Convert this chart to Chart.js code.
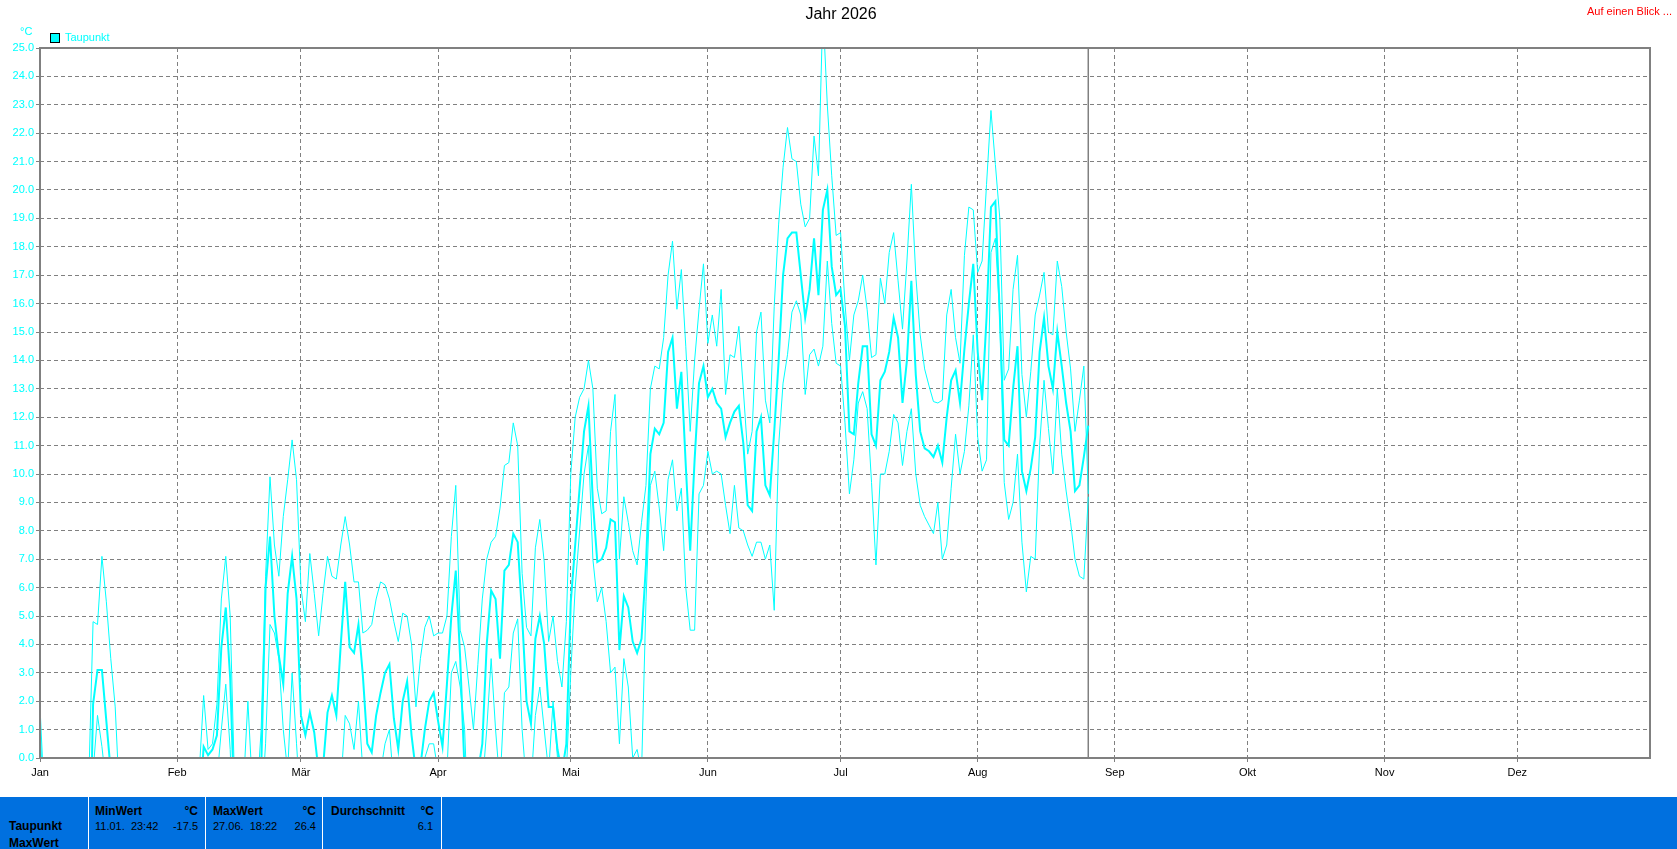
<!DOCTYPE html>
<html>
<head>
<meta charset="utf-8">
<script src="https://cdn.jsdelivr.net/npm/chart.js@4.4.1/dist/chart.umd.min.js"></script>
<style>
html,body{margin:0;padding:0;background:#fff;width:1677px;height:849px;overflow:hidden;}
#wrap{position:absolute;left:0;top:0;width:1677px;height:797px;}
#panel{position:absolute;left:0;top:797px;width:1677px;height:52px;background:#0070DF;font-family:"Liberation Sans",Arial,sans-serif;color:#000;}
.sep{position:absolute;top:0;width:1px;height:52px;background:#fff;}
.t{position:absolute;white-space:pre;line-height:12px;}
.b{font-weight:bold;font-size:12px;}
.r{font-size:11px;}
</style>
</head>
<body>
<div id="wrap"><canvas id="c" width="1677" height="797"></canvas></div>
<div id="panel">
  <div class="sep" style="left:88px"></div>
  <div class="sep" style="left:205px"></div>
  <div class="sep" style="left:322px"></div>
  <div class="sep" style="left:441px"></div>
  <div class="t b" style="left:9px;top:23px">Taupunkt</div>
  <div class="t b" style="left:9px;top:40px">MaxWert</div>
  <div class="t b" style="left:95px;top:8px">MinWert</div>
  <div class="t b" style="right:1479px;top:8px">°C</div>
  <div class="t r" style="left:95px;top:23px">11.01.  23:42</div>
  <div class="t r" style="right:1479px;top:23px">-17.5</div>
  <div class="t b" style="left:213px;top:8px">MaxWert</div>
  <div class="t b" style="right:1361px;top:8px">°C</div>
  <div class="t r" style="left:213px;top:23px">27.06.  18:22</div>
  <div class="t r" style="right:1361px;top:23px">26.4</div>
  <div class="t b" style="left:331px;top:8px">Durchschnitt</div>
  <div class="t b" style="right:1243px;top:8px">°C</div>
  <div class="t r" style="right:1244px;top:23px">6.1</div>
</div>
<script>
// ---- data (index = day of year, 0 = 1 Jan 2026) ----
const titleText = "Jahr 2026";
const seriesName = "Taupunkt";
const unitLabel = "°C";
const linkText = "Auf einen Blick ...";
const monthNames = ["Jan","Feb","Mär","Apr","Mai","Jun","Jul","Aug","Sep","Okt","Nov","Dez"];
const monthStarts = [0,31,59,90,120,151,181,212,243,273,304,334];
const yTicks = [0,1,2,3,4,5,6,7,8,9,10,11,12,13,14,15,16,17,18,19,20,21,22,23,24,25];
const todayIndex = 237;

const maxVals = [
  /*0*/ 1.8,-1.5,-3,-4,-2.5,-3,-5,-6,-4,-7,-8,
  /*11*/ -1,4.8,4.7,7.1,5.5,3.5,1.8,-1.5,
  /*19*/ -3,-4,-5,-3,-2,-4,-6,-5,-3,-2,-4,-5,-3,-2,-3,-1.5,-1,
  /*36*/ -0.5,2.2,0.3,0.5,1.9,5.6,7.1,5.0,-1,
  /*45*/ -2,-1,2.0,-1,-1.5,1.0,
  /*51*/ 6.4,9.9,7.5,6.4,8.5,9.8,11.2,9.8,6.0,4.8,
  /*61*/ 7.2,5.8,4.3,5.8,7.1,6.4,6.3,7.5,8.5,7.5,
  /*71*/ 6.2,6.2,4.4,4.5,4.7,5.6,6.2,6.1,5.6,4.8,
  /*81*/ 4.1,5.1,5.0,4.0,1.8,3.5,4.6,5.0,
  /*89*/ 4.3,4.4,4.4,5.0,7.8,9.6,4.5,3.9,2.5,1.0,3.3,5.6,
  /*101*/ 7.0,7.6,7.8,8.8,10.3,10.4,11.8,11.0,6.5,4.6,
  /*111*/ 4.3,7.4,8.4,6.9,4.1,5.0,3.4,2.5,4.8,10.0,
  /*121*/ 12.0,12.7,13.0,14.0,13.0,9.5,8.6,8.7,11.5,12.8,
  /*131*/ 7.0,9.2,8.3,7.3,6.8,8.3,9.6,13.0,13.8,13.7,
  /*141*/ 14.8,17.0,18.2,15.8,17.2,14.5,11.5,14.0,15.8,17.4,
  /*151*/ 14.6,15.6,14.5,16.5,12.8,14.2,14.1,15.2,13.0,10.7,
  /*161*/ 11.5,15.0,15.7,12.6,11.8,15.9,18.8,20.8,22.2,21.1,
  /*171*/ 21.0,19.5,18.7,19.0,21.9,20.5,26.4,23.0,20.5,18.4,
  /*181*/ 18.5,16.0,14.0,15.6,16.1,17.0,15.8,14.1,14.2,16.9,
  /*191*/ 16.0,17.8,18.5,16.8,15.1,17.5,20.2,17.0,14.9,13.7,
  /*201*/ 13.1,12.55,12.5,12.6,15.6,16.5,14.8,13.9,17.7,19.4,
  /*211*/ 19.3,17.1,17.5,20.2,22.8,20.9,19.0,13.3,13.7,16.5,
  /*221*/ 17.7,13.5,12.0,13.6,15.6,16.3,17.1,15.0,14.9,17.5,
  /*231*/ 16.6,15.0,13.7,11.5,12.6,13.8,9.3
];

const meanVals = [
  /*0*/ 0.8,-3,-5,-6,-5,-6,-8,-9,-8,-10,-12,
  /*11*/ -6,1.9,3.1,3.1,1.3,-0.5,-2,-4,
  /*19*/ -6,-7,-8,-6,-5,-7,-9,-8,-6,-5,-7,-8,-6,-5,-5,-4,-3,
  /*36*/ -2,0.4,0.1,0.3,0.8,3.9,5.3,2.8,-2,
  /*45*/ -3,-2.5,-0.5,-3,-3,-0.5,
  /*51*/ 6.0,7.8,5.0,3.6,2.6,5.8,7.1,5.6,1.5,0.8,
  /*61*/ 1.6,0.9,-0.5,-0.3,1.6,2.2,1.5,4.0,6.2,3.9,
  /*71*/ 3.7,4.7,2.9,0.5,0.2,1.5,2.3,3.0,3.3,1.4,
  /*81*/ 0.3,2.0,2.7,0.8,-0.5,-0.3,1.0,2.0,
  /*89*/ 2.3,1.3,0.4,2.6,5.0,6.6,3.5,-0.5,-1,-1,-0.5,0.5,
  /*101*/ 4.0,5.9,5.6,3.5,6.6,6.8,7.9,7.6,5.0,2.0,
  /*111*/ 1.2,4.2,5.0,4.0,1.8,1.8,0.3,-0.5,0.5,5.5,
  /*121*/ 7.5,9.5,11.5,12.4,9.0,6.9,7.0,7.4,8.4,8.3,
  /*131*/ 3.8,5.7,5.3,4.1,3.7,4.2,6.8,10.7,11.6,11.4,
  /*141*/ 11.8,14.3,14.8,12.3,13.6,10.3,7.3,10.5,13.2,13.8,
  /*151*/ 12.7,13.0,12.5,12.3,11.3,11.8,12.2,12.4,11.1,8.9,
  /*161*/ 8.7,11.5,12.0,9.6,9.25,11.5,14.0,17.0,18.3,18.5,
  /*171*/ 18.5,17.0,15.5,16.5,18.3,16.3,19.3,20.0,17.3,16.3,
  /*181*/ 16.5,15.2,11.5,11.4,13.2,14.5,14.5,11.4,11.0,13.3,
  /*191*/ 13.6,14.3,15.5,14.8,12.5,14.0,16.8,13.5,11.5,10.9,
  /*201*/ 10.8,10.6,11.0,10.4,12.0,13.3,13.65,12.5,14.4,16.0,
  /*211*/ 17.4,14.3,12.6,15.5,19.4,19.6,15.6,11.2,11.0,13.0,
  /*221*/ 14.5,10.1,9.4,10.2,11.3,14.3,15.5,13.8,13.0,15.0,
  /*231*/ 13.8,12.5,11.5,9.4,9.6,10.6,11.7
];

const minVals = [
  /*0*/ -0.5,-5,-7,-9,-8,-9,-11,-13,-12,-14,-17.5,
  /*11*/ -12,-0.5,1.5,0.4,-1,-3,-5,-7,
  /*19*/ -9,-10,-12,-9,-8,-10,-12,-11,-9,-8,-10,-11,-9,-8,-8,-7,-6,
  /*36*/ -4,-2,-1.5,-1,-0.8,1.0,2.6,0.3,-4,
  /*45*/ -5,-4,-2.5,-5,-5,-2,
  /*51*/ 0.5,4.7,4.4,3.5,1.0,-0.5,3.0,0.5,-2,-1.5,
  /*61*/ -1,-2,-3,-2.5,-1,-0.5,-1.5,-1,1.5,1.2,
  /*71*/ 0.3,2.0,-0.5,-2,-2.5,-1,-0.5,0.5,1.0,-1,
  /*81*/ -2,-0.5,-0.3,-1.5,-3,-2,0,0.5,
  /*89*/ 0.5,-0.5,-1.5,-0.5,3.0,3.4,2.5,1.0,-3,-4,-3,-1,
  /*101*/ 1.0,3.5,1.0,-1,2.3,2.5,4.4,4.9,1.0,-1,
  /*111*/ -1,1.5,2.5,1.0,-0.5,2.0,0,-1,-0.5,3.0,
  /*121*/ 6.0,8.0,10.0,11.0,7.0,5.5,6.0,4.8,3.0,3.2,
  /*131*/ 0.5,3.5,2.5,0,0.3,-0.5,5.5,9.6,10.1,8.8,
  /*141*/ 7.3,9.8,10.5,8.7,9.5,6.0,4.5,4.5,9.3,9.6,
  /*151*/ 10.8,10.0,10.1,10.0,8.9,7.9,9.6,8.1,8.0,7.5,
  /*161*/ 7.1,7.6,7.6,7.0,7.5,5.2,11.0,13.2,14.2,15.7,
  /*171*/ 16.1,15.6,12.8,14.2,14.4,13.8,14.5,17.5,15.3,13.9,
  /*181*/ 13.8,11.8,9.3,10.5,12.5,12.9,12.3,9.7,6.8,10.0,
  /*191*/ 10.0,10.8,12.1,11.8,10.3,11.5,12.3,10.0,8.9,8.5,
  /*201*/ 8.2,7.9,9.0,7.0,7.5,9.5,11.4,10.0,10.8,12.4,
  /*211*/ 14.9,11.3,10.1,10.5,17.8,18.3,15.5,9.7,8.4,9.0,
  /*221*/ 10.7,7.6,5.85,7.1,7.0,11.0,13.3,11.6,10.0,13.0,
  /*231*/ 10.7,9.4,8.3,7.0,6.4,6.3,9.2
];

// ---- chart ----
const FONT = '"Liberation Sans", Arial, sans-serif';
const CYAN = '#00FFFF';
const GRID = '#808080';
const toXY = arr => arr.map((v, i) => ({x: i, y: v}));

const overlay = {
  id: 'overlay',
  beforeDatasetsDraw(chart) {
    const ctx = chart.ctx, a = chart.chartArea;
    const tx = chart.scales.x.getPixelForValue(todayIndex);
    ctx.save();
    ctx.strokeStyle = GRID; ctx.lineWidth = 1.5; ctx.setLineDash([]);
    ctx.beginPath(); ctx.moveTo(tx, a.top); ctx.lineTo(tx, a.bottom); ctx.stroke();
    ctx.restore();
  },
  afterDraw(chart) {
    const ctx = chart.ctx, a = chart.chartArea;
    ctx.save();
    ctx.setLineDash([]);
    ctx.strokeStyle = GRID; ctx.lineWidth = 2;
    ctx.strokeRect(a.left, a.top, a.right - a.left, a.bottom - a.top);
    // title
    ctx.fillStyle = '#000'; ctx.font = '16px ' + FONT;
    ctx.textAlign = 'center'; ctx.textBaseline = 'middle';
    ctx.fillText(titleText, 841, 15);
    // link text
    ctx.fillStyle = '#FF0000'; ctx.font = '11px ' + FONT;
    ctx.textAlign = 'right';
    ctx.fillText(linkText, 1672, 12);
    // unit
    ctx.fillStyle = CYAN; ctx.textAlign = 'left';
    ctx.fillText(unitLabel, 20, 32);
    // legend
    ctx.fillStyle = CYAN; ctx.fillRect(50.5, 33.5, 9, 9);
    ctx.strokeStyle = '#000'; ctx.lineWidth = 1; ctx.strokeRect(50.5, 33.5, 9, 9);
    ctx.fillStyle = CYAN; ctx.fillText(seriesName, 65, 38);
    ctx.restore();
  }
};

new Chart(document.getElementById('c'), {
  type: 'line',
  data: {
    datasets: [
      {label: seriesName + ' max', data: toXY(maxVals), borderColor: CYAN, borderWidth: 1, pointRadius: 0, tension: 0, fill: false},
      {label: seriesName, data: toXY(meanVals), borderColor: CYAN, borderWidth: 2, pointRadius: 0, tension: 0, fill: false},
      {label: seriesName + ' min', data: toXY(minVals), borderColor: CYAN, borderWidth: 1, pointRadius: 0, tension: 0, fill: false}
    ]
  },
  options: {
    responsive: false,
    animation: false,
    devicePixelRatio: 1,
    layout: {padding: {left: 0, top: 48, right: 27, bottom: 0}},
    plugins: {legend: {display: false}, tooltip: {enabled: false}, title: {display: false}},
    scales: {
      x: {
        type: 'linear', min: 0, max: 364,
        afterBuildTicks: s => { s.ticks = monthStarts.map(v => ({value: v})); },
        afterFit: s => { s.height = 39; },
        ticks: {
          autoSkip: false, maxRotation: 0, color: '#000', padding: 4,
          font: {family: FONT, size: 11},
          callback: v => monthNames[monthStarts.indexOf(v)]
        },
        grid: {color: GRID, lineWidth: 1, tickLength: 4, drawTicks: true},
        border: {display: false, dash: [4, 3]}
      },
      y: {
        type: 'linear', min: 0, max: 25,
        afterBuildTicks: s => { s.ticks = yTicks.map(v => ({value: v})); },
        afterFit: s => { s.width = 40; },
        ticks: {
          autoSkip: false, color: CYAN, padding: 2,
          font: {family: FONT, size: 11},
          callback: v => v.toFixed(1)
        },
        grid: {color: GRID, lineWidth: 1, tickLength: 4, drawTicks: true},
        border: {display: false, dash: [4, 3]}
      }
    }
  },
  plugins: [overlay]
});
</script>
</body>
</html>
